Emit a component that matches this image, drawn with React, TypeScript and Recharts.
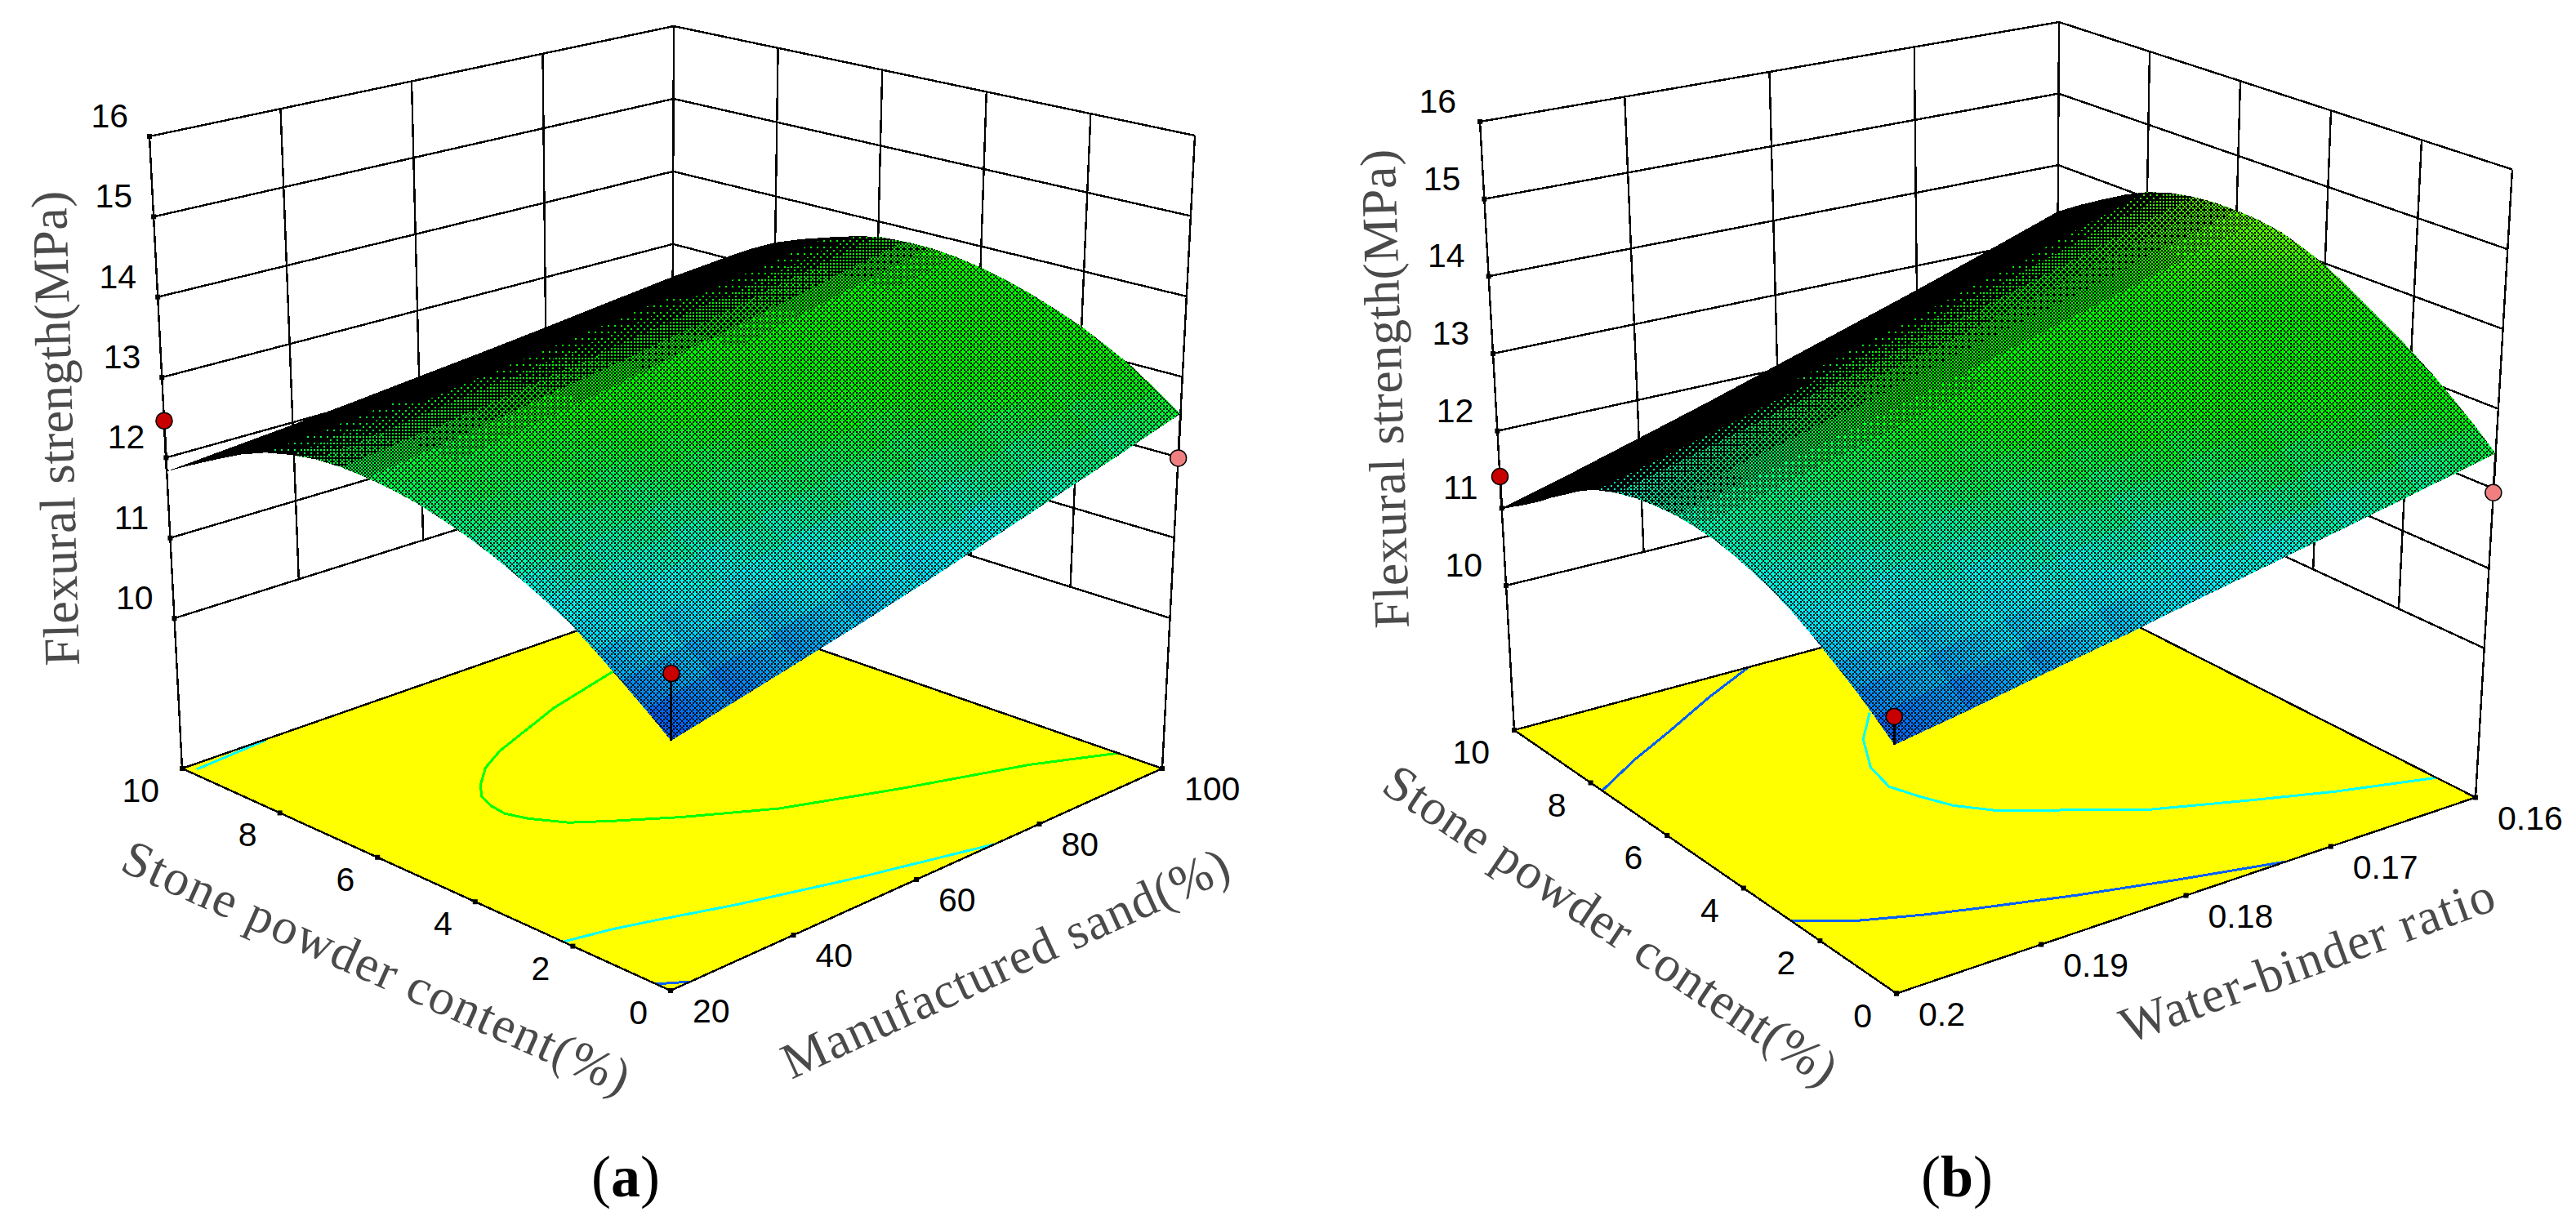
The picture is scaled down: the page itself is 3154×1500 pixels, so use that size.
import React from "react";
import { ScatterChart, Scatter, XAxis, YAxis } from "recharts";

const WIDTH = 3154;
const HEIGHT = 1500;

const strengthTicks = [10, 11, 12, 13, 14, 15, 16];
const stoneTicks = [0, 2, 4, 6, 8, 10];
const sandTicks = [20, 40, 60, 80, 100];
const ratioTicks = [0.2, 0.19, 0.18, 0.17, 0.16];
const stoneGrid = [0, 0.5, 1, 1.5, 2, 2.5, 3, 3.5, 4, 4.5, 5, 5.5, 6, 6.5, 7, 7.5, 8, 8.5, 9, 9.5, 10];
const sandGrid = [20, 30, 40, 50, 60, 70, 80, 90, 100];
const ratioGrid = [0.2, 0.195, 0.19, 0.185, 0.18, 0.175, 0.17, 0.165, 0.16];

// strength, one row per sand value, columns follow stoneGrid
const strengthBySand = [
  [10.88, 11.11, 11.33, 11.55, 11.76, 11.92, 12.07, 12.21, 12.33, 12.43, 12.52, 12.58, 12.62, 12.64, 12.63, 12.58, 12.5, 12.37, 12.2, 12.02, 11.83],
  [11.04, 11.27, 11.48, 11.7, 11.91, 12.06, 12.21, 12.35, 12.46, 12.56, 12.64, 12.7, 12.73, 12.74, 12.72, 12.67, 12.58, 12.45, 12.27, 12.09, 11.9],
  [11.21, 11.44, 11.65, 11.86, 12.06, 12.22, 12.36, 12.49, 12.61, 12.7, 12.78, 12.82, 12.85, 12.85, 12.83, 12.76, 12.67, 12.53, 12.36, 12.17, 11.97],
  [11.39, 11.62, 11.84, 12.04, 12.24, 12.39, 12.53, 12.66, 12.76, 12.85, 12.92, 12.96, 12.99, 12.97, 12.94, 12.87, 12.77, 12.63, 12.44, 12.25, 12.05],
  [11.59, 11.82, 12.04, 12.23, 12.42, 12.57, 12.71, 12.83, 12.93, 13.01, 13.08, 13.11, 13.13, 13.1, 13.06, 12.98, 12.88, 12.73, 12.54, 12.34, 12.14],
  [11.81, 12.03, 12.25, 12.44, 12.62, 12.76, 12.9, 13.02, 13.11, 13.19, 13.25, 13.27, 13.28, 13.24, 13.18, 13.1, 12.99, 12.83, 12.64, 12.44, 12.23],
  [12.04, 12.26, 12.47, 12.66, 12.83, 12.97, 13.1, 13.21, 13.31, 13.38, 13.43, 13.44, 13.44, 13.39, 13.32, 13.23, 13.11, 12.95, 12.75, 12.54, 12.33],
  [12.28, 12.5, 12.71, 12.89, 13.06, 13.2, 13.32, 13.43, 13.51, 13.58, 13.62, 13.63, 13.62, 13.55, 13.47, 13.37, 13.24, 13.07, 12.87, 12.65, 12.44],
  [12.54, 12.76, 12.97, 13.14, 13.3, 13.43, 13.55, 13.65, 13.73, 13.79, 13.82, 13.82, 13.8, 13.72, 13.62, 13.51, 13.38, 13.2, 12.99, 12.77, 12.55],
];

// same layout for panel b, one row per water-binder ratio
const strengthByRatio = [
  [10.94, 11.13, 11.31, 11.47, 11.63, 11.78, 11.9, 12.0, 12.08, 12.14, 12.17, 12.18, 12.16, 12.12, 12.05, 11.95, 11.8, 11.6, 11.38, 11.18, 11.0],
  [11.09, 11.29, 11.47, 11.64, 11.8, 11.96, 12.08, 12.19, 12.28, 12.34, 12.38, 12.39, 12.38, 12.34, 12.28, 12.18, 12.04, 11.84, 11.62, 11.43, 11.24],
  [11.26, 11.46, 11.65, 11.82, 11.98, 12.14, 12.27, 12.39, 12.48, 12.56, 12.6, 12.62, 12.61, 12.58, 12.52, 12.42, 12.28, 12.1, 11.88, 11.69, 11.5],
  [11.43, 11.64, 11.83, 12.01, 12.18, 12.34, 12.47, 12.6, 12.7, 12.78, 12.84, 12.86, 12.85, 12.83, 12.77, 12.68, 12.55, 12.36, 12.16, 11.96, 11.77],
  [11.62, 11.83, 12.03, 12.21, 12.38, 12.55, 12.69, 12.82, 12.94, 13.02, 13.08, 13.11, 13.11, 13.09, 13.04, 12.95, 12.83, 12.65, 12.45, 12.25, 12.06],
  [11.81, 12.03, 12.23, 12.42, 12.6, 12.76, 12.91, 13.05, 13.18, 13.27, 13.34, 13.38, 13.38, 13.36, 13.32, 13.24, 13.12, 12.95, 12.75, 12.56, 12.36],
  [12.01, 12.23, 12.44, 12.64, 12.82, 12.99, 13.15, 13.3, 13.43, 13.54, 13.62, 13.65, 13.66, 13.65, 13.61, 13.54, 13.42, 13.26, 13.07, 12.88, 12.67],
  [12.22, 12.45, 12.67, 12.87, 13.05, 13.23, 13.39, 13.55, 13.7, 13.81, 13.9, 13.95, 13.96, 13.95, 13.92, 13.85, 13.75, 13.59, 13.4, 13.21, 13.0],
  [12.44, 12.68, 12.9, 13.11, 13.3, 13.48, 13.65, 13.82, 13.98, 14.1, 14.2, 14.25, 14.27, 14.27, 14.24, 14.18, 14.08, 13.93, 13.75, 13.56, 13.35],
];

// contour lines on the floor, [x axis value, stone powder]
const sandContours = [
  { color: "#00ff00", points: [[78.4, 8.5], [65.6, 8.1], [52, 7.5], [47.2, 7.2], [43.2, 6.8], [41, 6.5], [40, 6.2], [39.6, 5.85], [40.6, 5.5], [43.2, 5.0], [47.2, 4.6], [53.6, 4.0], [63.2, 3.2], [76.8, 2.4], [91.2, 1.6], [100, 0.9]] },
  { color: "#00ffff", points: [[20, 2.2], [26.4, 2], [31, 1.8], [41.3, 1.3], [56.4, 0.65], [72.8, 0]] },
  { color: "#00ffff", points: [[21.2, 9.85], [33.6, 9.98]] },
  { color: "#0060ff", points: [[20, 0.3], [23.2, 0]] },
];
const ratioContours = [
  { color: "#00ffff", points: [[0.1804, 7.75], [0.1829, 7.05], [0.1848, 6.2], [0.1854, 5.52], [0.1847, 5.0], [0.1838, 4.47], [0.1822, 3.98], [0.1752, 2.68], [0.1697, 2.0], [0.1654, 1.48], [0.16, 0.93]] },
  { color: "#0060ff", points: [[0.2, 7.7], [0.1959, 8.3], [0.192, 8.8], [0.1872, 9.45], [0.1827, 10]] },
  { color: "#0060ff", points: [[0.2, 2.75], [0.1971, 2.24], [0.1933, 1.8], [0.1906, 1.53], [0.1848, 0.98], [0.1792, 0.5], [0.1731, 0]] },
];

// design points, [x axis value, stone powder, strength]
const sandDesignPoints = [
  { color: "#c80000", point: [20, 10, 12.46] },
  { color: "#c80000", point: [20, 0, 11.62] },
  { color: "#f08080", point: [100, 0, 11.99] },
];
const ratioDesignPoints = [
  { color: "#c80000", point: [0.2, 10, 11.41] },
  { color: "#c80000", point: [0.2, 0, 11.26] },
  { color: "#f08080", point: [0.16, 0, 11.95] },
];

const Z_MIN = 8.13;
const Z_MAX = 16;
const TICK_FONT = "'Liberation Sans', Arial, sans-serif";
const TITLE_FONT = "'Liberation Serif', 'Times New Roman', serif";
const TITLE_COLOR = "#4a4a4a";

type Pt = { x: number; y: number };
const pt = (x: number, y: number): Pt => ({ x, y });

const panelA = {
  id: "a",
  F: pt(821, 1213), R: pt(1423, 941), L: pt(223, 941), B: pt(822, 732),
  FT: pt(823, 337), RT: pt(1463, 166), LT: pt(183, 167), BT: pt(825, 32),
  toU: (value: number) => (value - 20) / 80,
  xTicks: sandTicks,
  xLabels: ["20", "40", "60", "80", "100"],
  xGrid: sandGrid,
  table: strengthBySand,
  contours: sandContours,
  design: sandDesignPoints,
  zOffset: [-26, -25],
  stoneOffset: [-28, 27],
  xOffset: [27, 25],
  titles: [
    { text: "Flexural strength(MPa)", x: 97, y: 815, angle: -91.6, length: 582 },
    { text: "Stone powder content(%)", x: 145, y: 1065, angle: 24.2, length: 674 },
    { text: "Manufactured sand(%)", x: 969, y: 1322, angle: -24.6, length: 595 },
  ],
  captionX: 766,
};

const panelB = {
  id: "b",
  F: pt(2322, 1216.5), R: pt(3031, 976.5), L: pt(1854, 894), B: pt(2517, 716),
  FT: pt(2315, 364), RT: pt(3076, 207.5), LT: pt(1812, 149), BT: pt(2521, 27),
  toU: (value: number) => (0.2 - value) / 0.04,
  xTicks: ratioTicks,
  xLabels: ["0.2", "0.19", "0.18", "0.17", "0.16"],
  xGrid: ratioGrid,
  table: strengthByRatio,
  contours: ratioContours,
  design: ratioDesignPoints,
  zOffset: [-29, -25],
  stoneOffset: [-30, 27],
  xOffset: [27, 25],
  titles: [
    { text: "Flexural strength(MPa)", x: 1725, y: 769, angle: -91.7, length: 587 },
    { text: "Stone powder content(%)", x: 1689, y: 968, angle: 33.8, length: 654 },
    { text: "Water-binder ratio", x: 2605, y: 1278, angle: -20, length: 483 },
  ],
  captionX: 2396,
};

type Panel = typeof panelA;

const mix = (a: Pt, b: Pt, t: number) => pt(a.x + (b.x - a.x) * t, a.y + (b.y - a.y) * t);

// box corners -> screen, u along the x axis, v along stone powder, w up
function project(p: Panel, u: number, v: number, w: number): Pt {
  const floor = mix(mix(p.F, p.R, u), mix(p.L, p.B, u), v);
  const top = mix(mix(p.FT, p.RT, u), mix(p.LT, p.BT, u), v);
  return mix(floor, top, w);
}
const toW = (z: number) => (z - Z_MIN) / (Z_MAX - Z_MIN);
const place = (p: Panel, value: number, stone: number, z: number) => project(p, p.toU(value), stone / 10, toW(z));

const COLOR_STOPS: [number, number[]][] = [
  [10.42, [0, 0, 255]],
  [11.8, [0, 255, 255]],
  [12.9, [0, 255, 0]],
  [13.7, [0, 255, 0]],
  [15.3, [255, 255, 0]],
];
function surfaceColor(z: number) {
  for (let i = 1; i < COLOR_STOPS.length; i++) {
    const [z1, c1] = COLOR_STOPS[i];
    const [z0, c0] = COLOR_STOPS[i - 1];
    if (z <= z1) {
      const t = Math.max(0, (z - z0) / (z1 - z0));
      return `rgb(${c0.map((c, k) => Math.round(c + (c1[k] - c) * t)).join(",")})`;
    }
  }
  return "rgb(255,255,0)";
}

const BAYER = [
  [0, 8, 2, 10],
  [12, 4, 14, 6],
  [3, 11, 1, 9],
  [15, 7, 13, 5],
];
const LEVELS = Array.from({ length: 17 }, (_, n) => n);

function DitherDefs() {
  return (
    <svg width={0} height={0} style={{ position: "absolute" }}>
      <defs>
        {LEVELS.map((n) => (
          <pattern key={n} id={`dither-${n}`} width={8} height={8} patternUnits="userSpaceOnUse">
            {BAYER.flatMap((row, r) =>
              row.map((b, c) =>
                b < n ? <rect key={`${r}-${c}`} x={c * 2} y={r * 2} width={2} height={2} fill="#000" shapeRendering="crispEdges" /> : null
              )
            )}
          </pattern>
        ))}
      </defs>
    </svg>
  );
}

const clampIndex = (i: number, n: number) => Math.max(0, Math.min(n - 1, i));

// how much of a cell the dense black wire mesh of the original covers,
// spacings are taken over a few neighbouring cells so single readings do not show as stripes
function meshLevel(p: Panel, i: number, j: number) {
  const MESH_U = 12.5;
  const MESH_V = 5;
  const n = p.xGrid.length;
  const m = stoneGrid.length;
  const at = (a: number, b: number) => place(p, p.xGrid[a], stoneGrid[b], p.table[a][b]);
  const i0 = clampIndex(i - 1, n);
  const i1 = clampIndex(i + 2, n);
  const j0 = clampIndex(j - 1, m);
  const j1 = clampIndex(j + 2, m);
  const ua = at(i0, j);
  const ub = at(i1, j);
  const uc = at(i0, j + 1);
  const ud = at(i1, j + 1);
  const ux = ((ub.x - ua.x + ud.x - uc.x) / 2 / (i1 - i0)) / MESH_U;
  const uy = ((ub.y - ua.y + ud.y - uc.y) / 2 / (i1 - i0)) / MESH_U;
  const va = at(i, j0);
  const vb = at(i, j1);
  const vc = at(i + 1, j0);
  const vd = at(i + 1, j1);
  const vx = ((vb.x - va.x + vd.x - vc.x) / 2 / (j1 - j0)) / MESH_V;
  const vy = ((vb.y - va.y + vd.y - vc.y) / 2 / (j1 - j0)) / MESH_V;
  const a = -(ux * vy - uy * vx);
  if (a <= 0) return 16;
  const spacingU = a / Math.hypot(vx, vy);
  const spacingV = a / Math.hypot(ux, uy);
  const open = (d: number) => Math.max(0, Math.min(0.8, (d - 1.8) / 4.2));
  return Math.round((1 - open(spacingU) * open(spacingV)) * 16);
}

function surfaceCells(p: Panel) {
  const cells: any[] = [];
  for (let i = p.xGrid.length - 2; i >= 0; i--) {
    for (let j = stoneGrid.length - 2; j >= 0; j--) {
      const zs = [p.table[i][j], p.table[i + 1][j], p.table[i + 1][j + 1], p.table[i][j + 1]];
      const at = [
        place(p, p.xGrid[i], stoneGrid[j], zs[0]),
        place(p, p.xGrid[i + 1], stoneGrid[j], zs[1]),
        place(p, p.xGrid[i + 1], stoneGrid[j + 1], zs[2]),
        place(p, p.xGrid[i], stoneGrid[j + 1], zs[3]),
      ];
      const x = at.reduce((s, q) => s + q.x, 0) / 4;
      const y = at.reduce((s, q) => s + q.y, 0) / 4;
      cells.push({ x, y, at, zs, level: meshLevel(p, i, j), id: `${p.id}-${i}-${j}` });
    }
  }
  return cells;
}

const NoMark = () => <g />;

function CellMark(props: any) {
  const { cx, cy, payload } = props;
  const ox = cx - payload.x;
  const oy = cy - payload.y;
  const pts = payload.at.map((q: Pt) => `${q.x + ox},${q.y + oy}`).join(" ");
  const zs: number[] = payload.zs;
  const lo = zs.indexOf(Math.min(...zs));
  const hi = zs.indexOf(Math.max(...zs));
  const gid = `cell-${payload.id}`;
  return (
    <g>
      <defs>
        <linearGradient id={gid} gradientUnits="userSpaceOnUse" x1={payload.at[lo].x + ox} y1={payload.at[lo].y + oy} x2={payload.at[hi].x + ox} y2={payload.at[hi].y + oy}>
          <stop offset="0" stopColor={surfaceColor(zs[lo])} />
          <stop offset="0.5" stopColor={surfaceColor((zs[lo] + zs[hi]) / 2)} />
          <stop offset="1" stopColor={surfaceColor(zs[hi])} />
        </linearGradient>
      </defs>
      <polygon points={pts} fill={`url(#${gid})`} shapeRendering="crispEdges" />
      <polygon points={pts} fill={`url(#dither-${payload.level})`} shapeRendering="crispEdges" />
    </g>
  );
}

function FloorMark(props: any) {
  const { cx, cy, payload } = props;
  const ox = cx - payload.x;
  const oy = cy - payload.y;
  const pts = payload.at.map((q: Pt) => `${q.x + ox},${q.y + oy}`).join(" ");
  return <polygon points={pts} fill="#ffff00" shapeRendering="crispEdges" />;
}

const TickMark = (props: any) => <rect x={props.cx - 3} y={props.cy - 3} width={6} height={6} fill="#000" />;

const DotMark = (props: any) => (
  <circle cx={props.cx} cy={props.cy} r={10} fill={props.payload.color} stroke="#000" strokeWidth={1.5} />
);

const LabelMark = (props: any) => (
  <text x={props.cx} y={props.cy} textAnchor={props.payload.anchor} dominantBaseline="central" fontFamily={TICK_FONT} fontSize={41} fill="#000">
    {props.payload.label}
  </text>
);

const TitleMark = (props: any) => {
  const { cx, cy, payload } = props;
  return (
    <text
      x={cx}
      y={cy}
      transform={`rotate(${payload.angle} ${cx} ${cy})`}
      fontFamily={TITLE_FONT}
      fontSize={62}
      fill={TITLE_COLOR}
      textLength={payload.length}
      lengthAdjust="spacing"
    >
      {payload.text}
    </text>
  );
};

const CaptionMark = (props: any) => (
  <text x={props.cx} y={props.cy} textAnchor="middle" fontFamily={TITLE_FONT} fontSize={72} fill="#000">
    (<tspan fontWeight="bold">{props.payload.letter}</tspan>)
  </text>
);

function line(key: string, points: Pt[], stroke = "#000", strokeWidth = 2.4) {
  return (
    <Scatter
      key={key}
      data={points}
      dataKey="y"
      line={{ stroke, strokeWidth, shapeRendering: "crispEdges" }}
      lineType="joint"
      shape={NoMark}
      isAnimationActive={false}
    />
  );
}

function panelSeries(p: Panel) {
  const out: React.ReactNode[] = [];
  const k = p.id;
  const wallX = p.xTicks.slice(1);
  const wallStone = stoneTicks.slice(1, -1);

  // back walls
  strengthTicks.forEach((z) => {
    out.push(line(`${k}-hz-${z}`, [project(p, 0, 1, toW(z)), project(p, 1, 1, toW(z)), project(p, 1, 0, toW(z))]));
  });
  wallX.forEach((value) => {
    out.push(line(`${k}-vx-${value}`, [place(p, value, 10, 10), place(p, value, 10, Z_MAX)]));
  });
  wallStone.forEach((stone) => {
    out.push(line(`${k}-vs-${stone}`, [project(p, 1, stone / 10, toW(10)), project(p, 1, stone / 10, 1)]));
  });
  out.push(line(`${k}-edge-l`, [project(p, 0, 1, 0), project(p, 0, 1, 1)]));
  out.push(line(`${k}-edge-r`, [project(p, 1, 0, 0), project(p, 1, 0, 1)]));

  // floor
  const floorAt = [project(p, 0, 0, 0), project(p, 1, 0, 0), project(p, 1, 1, 0), project(p, 0, 1, 0)];
  out.push(
    <Scatter
      key={`${k}-floor`}
      data={[{ x: (floorAt[0].x + floorAt[2].x) / 2, y: (floorAt[0].y + floorAt[2].y) / 2, at: floorAt }]}
      shape={FloorMark}
      isAnimationActive={false}
    />
  );
  p.contours.forEach((c, i) => {
    out.push(line(`${k}-contour-${i}`, c.points.map(([value, stone]) => place(p, value, stone, Z_MIN)), c.color, 3));
  });
  out.push(line(`${k}-floor-edge`, [floorAt[3], floorAt[0], floorAt[1], floorAt[2], floorAt[3]]));

  // ticks
  const ticks = [
    ...strengthTicks.map((z) => project(p, 0, 1, toW(z))),
    ...stoneTicks.map((s) => project(p, 0, s / 10, 0)),
    ...p.xTicks.map((value) => project(p, p.toU(value), 0, 0)),
  ];
  out.push(<Scatter key={`${k}-ticks`} data={ticks} shape={TickMark} isAnimationActive={false} />);

  // surface
  out.push(<Scatter key={`${k}-surface`} data={surfaceCells(p)} shape={CellMark} isAnimationActive={false} />);

  // design points and their stems
  p.design.forEach((d, i) => {
    const [value, stone, z] = d.point;
    const iu = p.xGrid.indexOf(value);
    const iv = stoneGrid.indexOf(stone);
    out.push(line(`${k}-stem-${i}`, [place(p, value, stone, z), place(p, value, stone, p.table[iu][iv])], "#000", 3));
  });
  out.push(
    <Scatter
      key={`${k}-dots`}
      data={p.design.map((d) => ({ ...place(p, d.point[0], d.point[1], d.point[2]), color: d.color }))}
      shape={DotMark}
      isAnimationActive={false}
    />
  );

  // text
  const labels = [
    ...strengthTicks.map((z) => {
      const q = project(p, 0, 1, toW(z));
      return { x: q.x + p.zOffset[0], y: q.y + p.zOffset[1], label: String(z), anchor: "end" };
    }),
    ...stoneTicks.map((s) => {
      const q = project(p, 0, s / 10, 0);
      return { x: q.x + p.stoneOffset[0], y: q.y + p.stoneOffset[1], label: String(s), anchor: "end" };
    }),
    ...p.xTicks.map((value, i) => {
      const q = project(p, p.toU(value), 0, 0);
      return { x: q.x + p.xOffset[0], y: q.y + p.xOffset[1], label: p.xLabels[i], anchor: "start" };
    }),
  ];
  out.push(<Scatter key={`${k}-labels`} data={labels} shape={LabelMark} isAnimationActive={false} />);
  out.push(<Scatter key={`${k}-titles`} data={p.titles} shape={TitleMark} isAnimationActive={false} />);
  out.push(<Scatter key={`${k}-caption`} data={[{ x: p.captionX, y: 1465, letter: p.id }]} shape={CaptionMark} isAnimationActive={false} />);
  return out;
}

export default function App() {
  return (
    <div style={{ position: "absolute", left: 0, top: 0, width: WIDTH, height: HEIGHT, background: "#fff" }}>
      <DitherDefs />
      <ScatterChart width={WIDTH} height={HEIGHT} margin={{ top: 0, right: 0, bottom: 0, left: 0 }}>
        <XAxis type="number" dataKey="x" domain={[0, WIDTH]} hide allowDataOverflow />
        <YAxis type="number" dataKey="y" domain={[0, HEIGHT]} reversed hide allowDataOverflow />
        {panelSeries(panelA)}
        {panelSeries(panelB)}
      </ScatterChart>
    </div>
  );
}
